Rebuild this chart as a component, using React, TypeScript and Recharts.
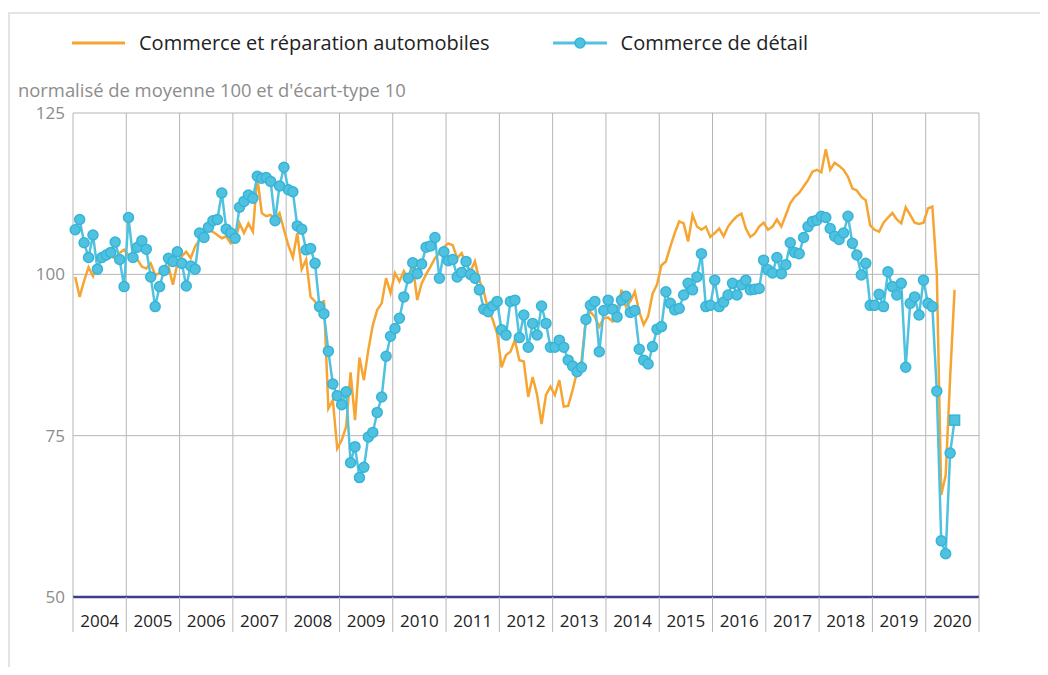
import { CartesianGrid, Line, LineChart, XAxis, YAxis } from "recharts";

const years = [2004, 2005, 2006, 2007, 2008, 2009, 2010, 2011, 2012, 2013, 2014, 2015, 2016, 2017, 2018, 2019, 2020];

// commerce de détail, monthly from Jan 2004
const retail = [
  106.9, 108.5, 104.9, 102.6, 106.1, 100.8, 102.6, 103.0, 103.4, 105.0, 102.3, 98.1,
  108.8, 102.6, 104.2, 105.2, 103.9, 99.6, 95.0, 98.1, 100.6, 102.5, 102.0, 103.5,
  101.7, 98.2, 101.3, 100.8, 106.4, 105.7, 107.3, 108.3, 108.5, 112.6, 107.0, 106.4,
  105.6, 110.4, 111.3, 112.3, 111.8, 115.2, 114.9, 115.0, 114.4, 108.3, 113.7, 116.6,
  113.1, 112.8, 107.5, 107.0, 103.8, 104.0, 101.7, 95.0, 93.9, 88.1, 83.0, 81.2,
  79.8, 81.8, 70.8, 73.3, 68.5, 70.1, 74.8, 75.5, 78.6, 81.0, 87.3, 90.4,
  91.6, 93.2, 96.5, 99.4, 101.8, 100.1, 101.6, 104.2, 104.4, 105.7, 99.4, 103.5,
  102.1, 102.3, 99.6, 100.3, 102.0, 100.0, 99.4, 97.6, 94.6, 94.2, 95.1, 95.8,
  91.4, 90.6, 95.8, 96.0, 90.2, 93.7, 88.7, 92.4, 90.6, 95.1, 92.4, 88.7,
  88.7, 89.8, 88.7, 86.7, 85.8, 84.9, 85.6, 93.0, 95.2, 95.8, 88.0, 94.4,
  96.0, 94.6, 93.4, 96.0, 96.6, 94.1, 94.4, 88.4, 86.7, 86.1, 88.8, 91.5,
  91.9, 97.3, 95.5, 94.5, 94.7, 96.8, 98.6, 97.6, 99.6, 103.2, 95.0, 95.2,
  99.1, 95.0, 95.7, 96.8, 98.6, 96.8, 98.4, 99.1, 97.6, 97.7, 97.8, 102.2,
  100.7, 100.2, 102.6, 100.1, 101.5, 104.9, 103.4, 103.2, 105.7, 107.4, 108.2, 108.4,
  109.0, 108.8, 107.1, 105.9, 105.4, 106.4, 109.0, 104.8, 103.0, 99.9, 101.7, 95.2,
  95.2, 96.9, 95.0, 100.4, 98.1, 96.8, 98.6, 85.6, 95.5, 96.5, 93.7, 99.1,
  95.5, 95.0, 81.9, 58.7, 56.7, 72.3, 77.4,
];

// commerce et réparation automobiles
const auto = [
  99.6, 96.5, 99.0, 101.1, 99.7, 101.2, 102.5, 102.5, 102.8, 102.5, 103.3, 103.8,
  103.0, 102.5, 102.3, 101.2, 100.9, 101.7, 99.9, 100.2, 99.9, 101.2, 98.4, 101.7,
  102.8, 103.5, 102.5, 104.3, 105.4, 106.1, 106.9, 106.6, 106.1, 105.6, 105.9, 104.8,
  105.1, 107.9, 106.4, 107.9, 106.6, 115.1, 109.5, 109.0, 109.2, 108.7, 109.5, 106.9,
  104.5, 102.6, 106.4, 100.8, 102.3, 96.5, 95.8, 94.5, 96.0, 79.2, 80.5, 73.0,
  74.3, 76.4, 84.8, 77.4, 87.1, 83.6, 88.3, 92.1, 94.5, 95.5, 99.4, 97.1,
  100.2, 98.9, 100.5, 99.3, 101.5, 96.0, 98.6, 100.0, 101.2, 102.5, 103.3, 104.2,
  104.8, 104.5, 102.5, 103.3, 101.5, 100.5, 102.0, 99.1, 97.3, 94.5, 93.0, 90.8,
  85.6, 87.5, 88.0, 89.8, 86.7, 86.5, 81.0, 84.1, 81.3, 76.8, 81.3, 82.6,
  81.3, 83.6, 79.5, 79.6, 82.1, 84.9, 86.5, 93.2, 94.2, 93.4, 91.9, 93.2,
  93.3, 92.7, 94.0, 97.6, 95.0, 95.8, 97.3, 94.2, 92.2, 93.5, 97.0, 98.4,
  101.4, 102.0, 104.3, 106.4, 108.2, 107.9, 105.1, 109.2, 107.4, 106.9, 107.4, 105.8,
  106.4, 107.1, 105.9, 107.4, 108.3, 109.0, 109.4, 107.1, 105.8, 106.3, 107.4, 108.0,
  106.9, 107.4, 108.5, 107.4, 109.2, 111.0, 112.0, 112.6, 113.6, 114.6, 115.9, 116.2,
  115.8, 119.4, 116.2, 117.3, 116.8, 116.2, 115.1, 113.3, 113.0, 112.0, 111.5, 107.6,
  106.9, 106.6, 108.0, 108.8, 109.5, 108.5, 107.9, 110.4, 109.2, 108.0, 107.8, 108.0,
  110.2, 110.5, 100.2, 65.8, 68.9, 84.0, 97.6,
];

const yTicks = [50, 75, 100, 125];

const ORANGE = "#f6a533";
const BLUE = "#50c2e0";

const data = retail.map((v, i) => ({ m: i + 0.5, retail: v, auto: auto[i] }));
const yearStarts = years.map((_, i) => i * 12).concat(years.length * 12);
const yearMids = years.map((_, i) => i * 12 + 6);

const RetailDot = (props: any) => {
  const { cx, cy, index } = props;
  if (cx == null || cy == null) return null;
  if (index === retail.length - 1) {
    return <rect key={index} x={cx - 5} y={cy - 5} width={10} height={10} fill={BLUE} stroke="#36b4d8" strokeWidth={1.5} />;
  }
  return <circle key={index} cx={cx} cy={cy} r={5} fill={BLUE} stroke="#36b4d8" strokeWidth={1.5} />;
};

export default function App() {
  return (
    <div
      style={{
        position: "relative",
        width: 1032,
        height: 659,
        overflow: "hidden",
        fontFamily: "'Open Sans', sans-serif",
      }}
    >
      <div
        style={{
          position: "absolute",
          left: 0,
          top: 4,
          width: 1100,
          height: 700,
          borderTop: "2px solid #e4e4e4",
          borderLeft: "2px solid #e4e4e4",
        }}
      />

      {/* legend */}
      <div style={{ position: "absolute", top: 21, left: 64, display: "flex", alignItems: "center", fontSize: 20, color: "#222" }}>
        <svg width={53} height={12} style={{ marginRight: 14 }}>
          <line x1={0} y1={6} x2={53} y2={6} stroke={ORANGE} strokeWidth={3} />
        </svg>
        <span>Commerce et réparation automobiles</span>
        <svg width={54} height={12} style={{ marginLeft: 63, marginRight: 14 }}>
          <line x1={0} y1={6} x2={54} y2={6} stroke={BLUE} strokeWidth={3} />
          <circle cx={27} cy={6} r={5} fill={BLUE} stroke="#36b4d8" strokeWidth={1.5} />
        </svg>
        <span>Commerce de détail</span>
      </div>

      <div style={{ position: "absolute", top: 69, left: 10, fontSize: 18.4, color: "#8c8c8c" }}>
        normalisé de moyenne 100 et d'écart-type 10
      </div>

      <LineChart width={1032} height={659} data={data} margin={{ top: 105, right: 11, bottom: 30, left: 0 }}>
        <CartesianGrid xAxisId="sep" yAxisId="l" stroke="#b5b5b5" strokeWidth={1} />
        <XAxis
          xAxisId="sep"
          dataKey="m"
          type="number"
          domain={[0, years.length * 12]}
          ticks={yearStarts}
          tickFormatter={() => ""}
          tickSize={35}
          tickLine={{ stroke: "#b5b5b5" }}
          axisLine={{ stroke: "#3d3d8e", strokeWidth: 2.5 }}
          height={1}
        />
        <XAxis
          xAxisId="yr"
          dataKey="m"
          type="number"
          domain={[0, years.length * 12]}
          ticks={yearMids}
          tickFormatter={(v: number) => String(years[(v - 6) / 12])}
          tickLine={false}
          axisLine={false}
          tickMargin={11}
          tick={{ fill: "#222", fontSize: 17 }}
          height={39}
        />
        <YAxis
          yAxisId="l"
          domain={[50, 125]}
          ticks={yTicks}
          axisLine={false}
          tickLine={false}
          tickMargin={2}
          width={65}
          tick={{ fill: "#8c8c8c", fontSize: 17 }}
        />
        <YAxis
          yAxisId="r"
          orientation="right"
          domain={[50, 125]}
          ticks={yTicks}
          axisLine={false}
          tickLine={false}
          tickMargin={0}
          width={50}
          tick={{ fill: "#8c8c8c", fontSize: 17 }}
        />
        <Line
          xAxisId="sep"
          yAxisId="l"
          dataKey="auto"
          stroke={ORANGE}
          strokeWidth={2.5}
          dot={false}
          isAnimationActive={false}
        />
        <Line
          xAxisId="sep"
          yAxisId="l"
          dataKey="retail"
          stroke={BLUE}
          strokeWidth={2.5}
          dot={RetailDot}
          isAnimationActive={false}
        />
      </LineChart>
    </div>
  );
}
